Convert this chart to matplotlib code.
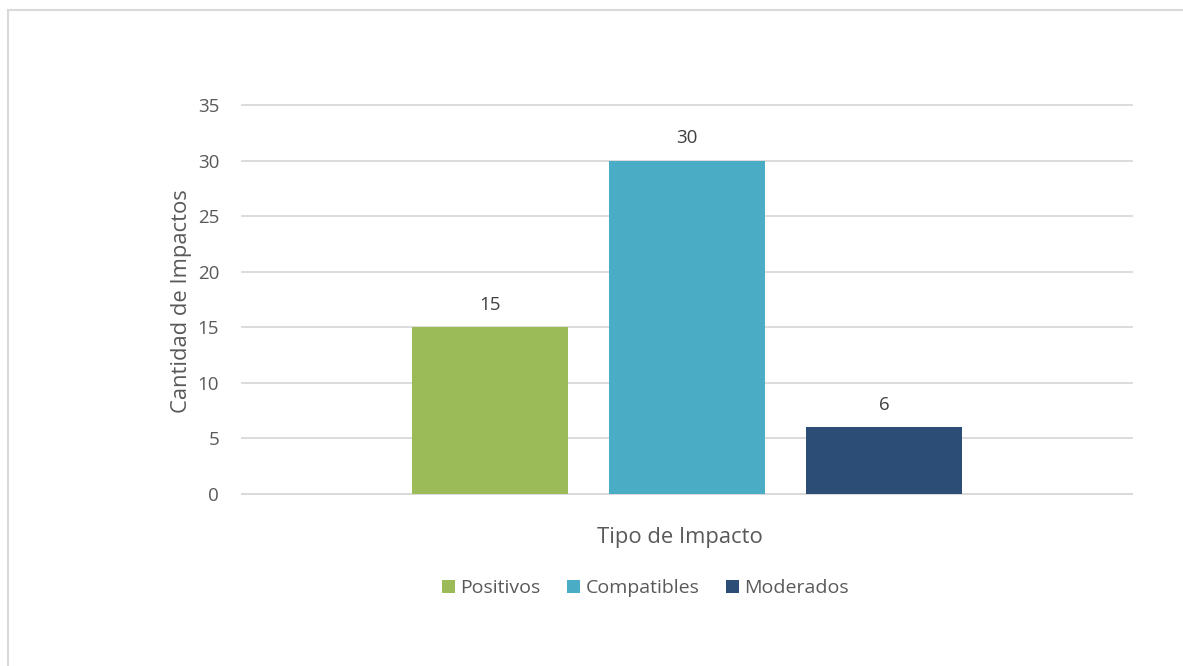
import matplotlib
matplotlib.use("Agg")
import matplotlib.pyplot as plt
from matplotlib.lines import Line2D
from matplotlib.patches import Patch

categories = ["Tipo de Impacto"]
series_names = ["Positivos", "Compatibles", "Moderados"]
series_values = [[15], [30], [6]]
series_colors = ["#9BBB59", "#4BACC6", "#2C4D75"]
y_ticks = [0, 5, 10, 15, 20, 25, 30, 35]

plt.rcParams["font.family"] = ["Open Sans", "DejaVu Sans"]

W, H = 1183, 666
fig = plt.figure(figsize=(W / 100, H / 100), dpi=100)
fig.patch.set_facecolor("white")

ax = fig.add_axes([242 / W, 1 - 494 / H, (1132 - 242) / W, (494 - 105) / H])

bar_w = 156 / 890
step = 197 / 890
offsets = [-step, 0, step]
for name, vals, col, off in zip(series_names, series_values, series_colors, offsets):
    xs = [i + off for i in range(len(categories))]
    bars = ax.bar(xs, vals, width=bar_w, color=col, label=name, zorder=3)
    for b, v in zip(bars, vals):
        ax.annotate(f"{v}", (b.get_x() + b.get_width() / 2, v),
                    xytext=(0, 12.5), textcoords="offset points",
                    ha="center", va="baseline", fontsize=13.5, color="#404040")

ax.set_xlim(-0.5, len(categories) - 0.5)
ax.set_ylim(0, 35)
ax.set_yticks(y_ticks)
ax.set_yticklabels([str(t) for t in y_ticks])
ax.set_xticks([])
ax.grid(axis="y", color="#D9D9D9", linewidth=1.3, zorder=0)
for gl in ax.yaxis.get_gridlines():
    gl.set_clip_on(False)
for s in ["top", "right", "left"]:
    ax.spines[s].set_visible(False)
ax.spines["bottom"].set_color("#D9D9D9")
ax.spines["bottom"].set_linewidth(1.3)
ax.tick_params(axis="y", length=0, pad=16.5, labelsize=13.5, labelcolor="#595959")

fig.text(181 / W, 1 - 301 / H, "Cantidad de Impactos", rotation=90,
         ha="center", va="center", fontsize=15.8, color="#595959")
fig.text(680 / W, 1 - 537 / H, categories[0], ha="center", va="center",
         fontsize=15.8, color="#595959")

handles = [Patch(facecolor=c, edgecolor="none") for c in series_colors]
fig.legend(handles, series_names, loc="center", bbox_to_anchor=(645.5 / W, 1 - 588 / H),
           ncol=3, frameon=False, fontsize=14, labelcolor="#595959",
           handlelength=0.67, handleheight=0.67, handletextpad=0.26,
           columnspacing=1.39, borderpad=0)

# outer frame of the chart area
fig.add_artist(Line2D([7.5 / W, 7.5 / W], [0, 1 - 9.5 / H], color="#D9D9D9", linewidth=1.5,
                      transform=fig.transFigure))
fig.add_artist(Line2D([7.5 / W, 1], [1 - 9.5 / H, 1 - 9.5 / H], color="#D9D9D9", linewidth=1.5,
                      transform=fig.transFigure))

fig.savefig("out.png", dpi=100, facecolor="white")
